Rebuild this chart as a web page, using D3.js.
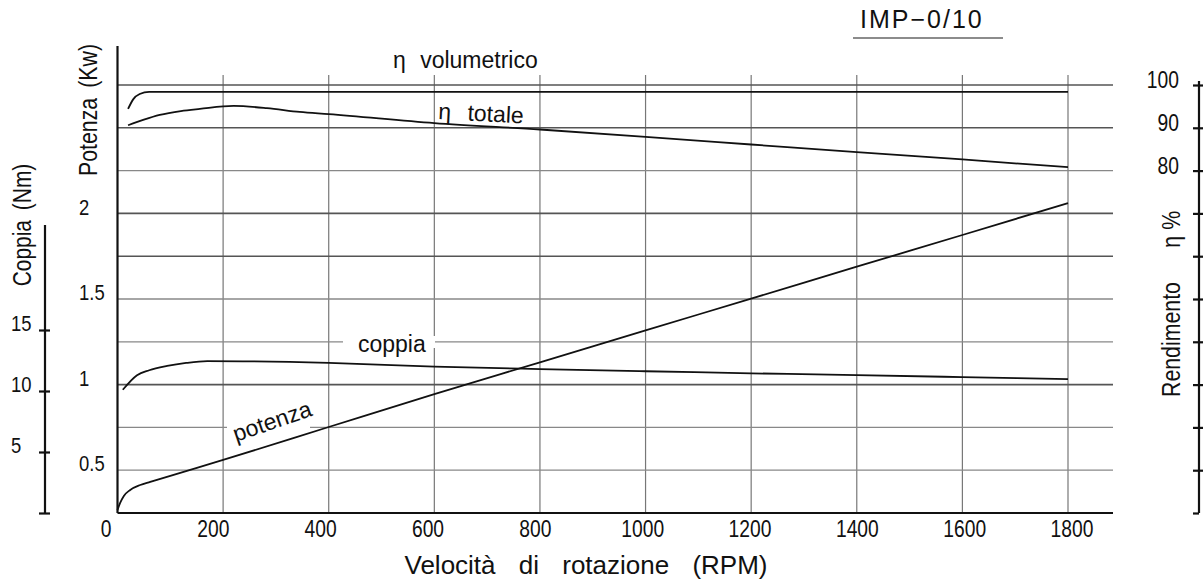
<!DOCTYPE html>
<html>
<head>
<meta charset="utf-8">
<script src="https://cdn.jsdelivr.net/npm/d3@7"></script>
<style>
  html, body { margin: 0; padding: 0; background: #fff; }
  svg text { font-family: "Liberation Sans", Arial, sans-serif; fill: #111; }
</style>
</head>
<body>
<svg id="chart" width="1203" height="585"></svg>
<script>
// ---------- data ----------
const rpmTicks = [0, 200, 400, 600, 800, 1000, 1200, 1400, 1600, 1800];
const etaGrid = [10, 20, 30, 40, 50, 60, 70, 80, 90, 100];
const etaTicks = [0, 10, 20, 30, 40, 50, 60, 70, 80, 90, 100];
const etaLabels = [80, 90, 100];
const potLabels = [0.5, 1, 1.5, 2];
const copTicks = [0, 5, 10, 15];
const copLabels = [5, 10, 15];

const rpmVol = [20, 30, 42, 60, 1800];
const etaVol = [94.4, 96.7, 97.9, 98.4, 98.4];

const rpmTot = [20, 50, 80, 120, 156, 220, 283, 345, 400, 600, 800, 1000, 1200, 1400, 1600, 1800];
const etaTot = [90.6, 91.9, 93.0, 93.9, 94.4, 95.1, 94.6, 93.7, 93.2, 91.1, 89.6, 87.9, 86.1, 84.3, 82.6, 80.8];

const rpmCop = [10, 37, 60, 94, 130, 170, 400, 600, 800, 1000, 1200, 1400, 1600, 1800];
const copVal = [10.1, 11.3, 11.7, 12.05, 12.3, 12.45, 12.3, 12.0, 11.8, 11.62, 11.45, 11.3, 11.14, 10.98];

const rpmPot = [0, 5, 12, 24, 43, 62, 100, 200, 400, 600, 800, 1000, 1200, 1400, 1600, 1800];
const potVal = [0.266, 0.307, 0.348, 0.383, 0.412, 0.43, 0.466, 0.559, 0.752, 0.945, 1.131, 1.318, 1.504, 1.691, 1.877, 2.064];

// ---------- scales ----------
const svg = d3.select("#chart");
const x = d3.scaleLinear().domain([0, 1800]).range([117.5, 1068]);
const xLab = d3.scaleLinear().domain([0, 1800]).range([106, 1072]);
const yEta = d3.scaleLinear().domain([0, 100]).range([513, 85]);
const yPot = d3.scaleLinear().domain([0.5, 2]).range([470, 214]);
const yCop = d3.scaleLinear().domain([0, 15]).range([513, 330]);

const NARROW = 0.82;
const gridDark = new Set([100, 90, 70, 60, 30]);

// vertical grid
svg.append("g").selectAll("line").data(rpmTicks.slice(1)).join("line")
  .attr("x1", d => x(d)).attr("x2", d => x(d))
  .attr("y1", 75).attr("y2", 513)
  .attr("stroke", "#777").attr("stroke-width", 1.2);

// horizontal grid
svg.append("g").selectAll("line").data(etaGrid).join("line")
  .attr("x1", x(0)).attr("x2", 1113)
  .attr("y1", d => yEta(d)).attr("y2", d => yEta(d))
  .attr("stroke", d => gridDark.has(d) ? "#555" : "#888")
  .attr("stroke-width", d => gridDark.has(d) ? 1.6 : 1.3);

// x axis line + left axis line
svg.append("line").attr("x1", x(0)).attr("x2", 1113).attr("y1", 513).attr("y2", 513)
  .attr("stroke", "#111").attr("stroke-width", 2.2);
svg.append("line").attr("x1", x(0)).attr("x2", x(0)).attr("y1", 46).attr("y2", 513)
  .attr("stroke", "#111").attr("stroke-width", 2.2);

// x tick labels
svg.append("g").selectAll("text").data(rpmTicks).join("text")
  .attr("transform", d => `translate(${xLab(d)},537) scale(${NARROW},1)`)
  .attr("text-anchor", "middle").attr("font-size", 23.5)
  .text(d => d);
svg.append("text").attr("x", 586).attr("y", 574).attr("text-anchor", "middle")
  .attr("font-size", 26).attr("word-spacing", 16)
  .text("Velocità di rotazione (RPM)");

// potenza labels (left inner)
svg.append("g").selectAll("text").data(potLabels).join("text")
  .attr("transform", d => `translate(79,${yPot(d) + 1}) scale(${NARROW},1)`)
  .attr("font-size", 22.5)
  .text(d => d);
svg.append("text").attr("transform", `translate(97,110) rotate(-90) scale(${NARROW},1)`)
  .attr("text-anchor", "middle").attr("font-size", 26).attr("word-spacing", 5)
  .text("Potenza (Kw)");

// coppia axis (far left)
const copAxis = svg.append("g").attr("transform", "translate(45,0)");
copAxis.append("line").attr("x1", 0).attr("x2", 0).attr("y1", 225).attr("y2", 513)
  .attr("stroke", "#111").attr("stroke-width", 2.2);
copAxis.call(g => g.append("g").call(d3.axisLeft(yCop).tickValues(copTicks).tickSize(6).tickFormat(""))
  .call(a => a.select(".domain").remove())
  .call(a => a.selectAll("line").attr("stroke", "#111").attr("stroke-width", 2.2)));
copAxis.call(g => g.append("g").call(d3.axisRight(yCop).tickValues(copTicks).tickSize(5).tickFormat(""))
  .call(a => a.select(".domain").remove())
  .call(a => a.selectAll("line").attr("stroke", "#111").attr("stroke-width", 2.2)));
svg.append("g").selectAll("text").data(copLabels).join("text")
  .attr("transform", d => `translate(11,${yCop(d) + 0.5}) scale(${NARROW},1)`)
  .attr("font-size", 22.5)
  .text(d => d);
svg.append("text").attr("transform", `translate(31,225) rotate(-90) scale(${NARROW},1)`)
  .attr("text-anchor", "middle").attr("font-size", 25.5).attr("word-spacing", 5)
  .text("Coppia (Nm)");

// right eta axis
const rAxis = svg.append("g").attr("transform", "translate(1199,0)");
rAxis.append("line").attr("x1", 0).attr("x2", 0).attr("y1", 81).attr("y2", 513)
  .attr("stroke", "#111").attr("stroke-width", 2.2);
rAxis.call(g => g.append("g").call(d3.axisLeft(yEta).tickValues(etaTicks).tickSize(6).tickFormat(""))
  .call(a => a.select(".domain").remove())
  .call(a => a.selectAll("line").attr("stroke", "#111").attr("stroke-width", 2.2)));
rAxis.call(g => g.append("g").call(d3.axisRight(yEta).tickValues(etaTicks.slice(1)).tickSize(4).tickFormat(""))
  .call(a => a.select(".domain").remove())
  .call(a => a.selectAll("line").attr("stroke", "#111").attr("stroke-width", 2.2)));
svg.append("g").selectAll("text").data(etaLabels).join("text")
  .attr("transform", d => `translate(1179,${yEta(d) + 3}) scale(${NARROW},1)`)
  .attr("text-anchor", "end").attr("font-size", 23.5)
  .text(d => d);
const rt = svg.append("text").attr("transform", `translate(1180,397) rotate(-90) scale(${NARROW},1)`)
  .attr("font-size", 26);
rt.append("tspan").text("Rendimento");
rt.append("tspan").attr("dx", 42).text("η %");

// title
svg.append("text").attr("x", 860).attr("y", 28).attr("font-size", 25).attr("letter-spacing", 2)
  .text("IMP−0/10");
svg.append("line").attr("x1", 853).attr("x2", 1003).attr("y1", 38).attr("y2", 38)
  .attr("stroke", "#666").attr("stroke-width", 1.6);

// label backgrounds (gaps in grid)
svg.append("rect").attr("x", 343).attr("y", 336).attr("width", 92).attr("height", 12).attr("fill", "#fff");
svg.append("rect").attr("x", 227).attr("y", 422).attr("width", 83).attr("height", 10).attr("fill", "#fff");

// ---------- curves ----------
const lineGen = (xs, ys, yScale) => d3.line().curve(d3.curveMonotoneX)
  .x((d, i) => x(xs[i])).y((d, i) => yScale(ys[i]))(xs);

const curves = svg.append("g").attr("fill", "none").attr("stroke", "#111").attr("stroke-width", 1.8);
curves.append("path").attr("d", lineGen(rpmVol, etaVol, yEta));
curves.append("path").attr("d", lineGen(rpmTot, etaTot, yEta));
curves.append("path").attr("d", lineGen(rpmCop, copVal, yCop));
curves.append("path").attr("d", lineGen(rpmPot, potVal, yPot));

// curve labels
svg.append("text").attr("x", 393).attr("y", 68).attr("font-size", 23).attr("word-spacing", 8)
  .text("η volumetrico");
svg.append("text").attr("transform", "translate(438,119) rotate(3)").attr("font-size", 23).attr("word-spacing", 10)
  .text("η totale");
svg.append("text").attr("x", 358).attr("y", 352).attr("font-size", 23)
  .text("coppia");
svg.append("text").attr("transform", "translate(236,442) rotate(-19)").attr("font-size", 23)
  .text("potenza");
</script>
</body>
</html>
